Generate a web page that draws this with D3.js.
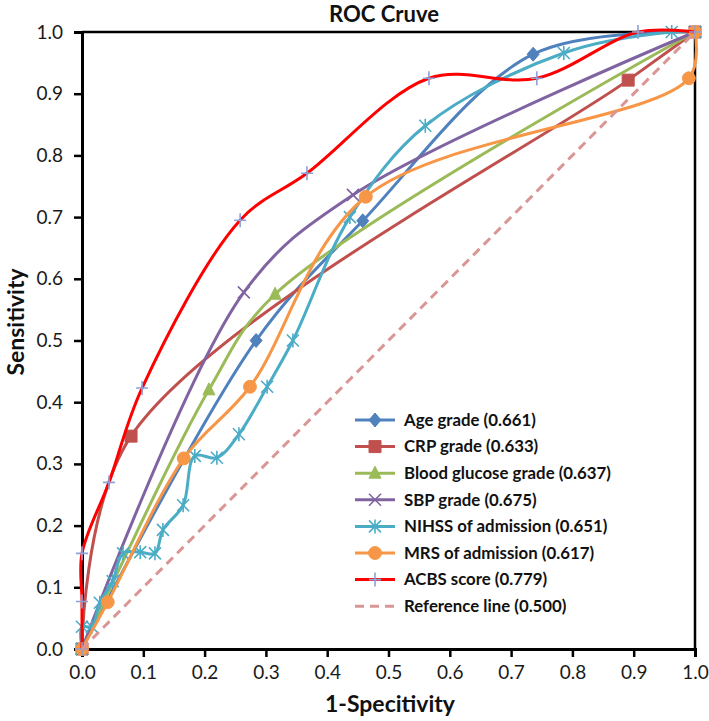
<!DOCTYPE html>
<html><head><meta charset="utf-8">
<script src="https://cdn.jsdelivr.net/npm/d3@7"></script>
<style>body{margin:0;background:#fff}svg{display:block}</style>
</head><body>
<script>
// ---- data ----
const xTicks = [0,0.1,0.2,0.3,0.4,0.5,0.6,0.7,0.8,0.9,1.0];
const yTicks = [0,0.1,0.2,0.3,0.4,0.5,0.6,0.7,0.8,0.9,1.0];
const seriesNames = ["Age grade (0.661)","CRP grade (0.633)","Blood glucose grade (0.637)","SBP grade (0.675)","NIHSS of admission (0.651)","MRS of admission (0.617)","ACBS score (0.779)","Reference line (0.500)"];
const ageX = [0, 0.284, 0.458, 0.736, 1];
const ageY = [0, 0.500, 0.694, 0.964, 1];
const crpX = [0, 0.080, 0.891, 1];
const crpY = [0, 0.345, 0.922, 1];
const bgX = [0, 0.207, 0.315, 1];
const bgY = [0, 0.420, 0.575, 1];
const sbpX = [0, 0.264, 0.442, 1];
const sbpY = [0, 0.578, 0.736, 1];
const nihssX = [0, 0, 0.016, 0.029, 0.050, 0.067, 0.095, 0.119, 0.132, 0.165, 0.184, 0.220, 0.256, 0.302, 0.344, 0.437, 0.560, 0.786, 0.962, 1];
const nihssY = [0, 0.036, 0.036, 0.075, 0.110, 0.155, 0.157, 0.155, 0.193, 0.233, 0.313, 0.310, 0.348, 0.425, 0.500, 0.700, 0.848, 0.966, 1.000, 1];
const mrsX = [0, 0.042, 0.166, 0.274, 0.463, 0.990, 1];
const mrsY = [0, 0.076, 0.309, 0.425, 0.733, 0.925, 1];
const acbsX = [0, 0, 0, 0.044, 0.098, 0.258, 0.367, 0.566, 0.742, 0.907, 1];
const acbsY = [0, 0.077, 0.155, 0.270, 0.423, 0.695, 0.771, 0.925, 0.925, 1.000, 1];
const refX = [0, 1];
const refY = [0, 1];

// ---- styles ----
const colors = ["#4F81BD","#C0504D","#9BBB59","#8064A2","#4BACC6","#F79646","#FF0000","#D99694"];
const markers = ["diamond","square","triangle","x","star","circle","plus","none"];
const markerColors = ["#4F81BD","#C0504D","#9BBB59","#8064A2","#4BACC6","#F79646","#8EA0D8",null];

const W = 709, H = 721;
const svg = d3.select("body").append("svg").attr("width", W).attr("height", H);
const x = d3.scaleLinear().domain([0,1]).range([82,695]);
const y = d3.scaleLinear().domain([0,1]).range([649,32]);

const font = "Lato, 'Open Sans', sans-serif";

// size a text so that its width matches a target width
function fitText(sel, base, target){
  sel.attr("font-size", base);
  const w = sel.node().getComputedTextLength();
  const fs = base * target / w;
  sel.attr("font-size", fs);
  return fs;
}

// title
const title = svg.append("text").attr("x", 384).attr("y", 22).attr("text-anchor","middle")
  .attr("font-family", font).attr("font-weight","bold").attr("fill","#111")
  .text("ROC Cruve");
fitText(title, 20, 110);
// axis titles
const xt = svg.append("text").attr("x", 390).attr("y", 712).attr("text-anchor","middle")
  .attr("font-family", font).attr("font-weight","bold").attr("fill","#111")
  .text("1-Specitivity");
const axFs = fitText(xt, 20, 130);
svg.append("text").attr("transform","translate(24,322) rotate(-90)").attr("text-anchor","middle")
  .attr("font-family", font).attr("font-weight","bold").attr("font-size", axFs).attr("fill","#111")
  .text("Sensitivity");

// axes
const gx = svg.append("g").attr("transform","translate(0,649)")
  .call(d3.axisBottom(x).tickValues(xTicks).tickFormat(d3.format(".1f")).tickSize(8).tickPadding(9));
const gy = svg.append("g").attr("transform","translate(82,0)")
  .call(d3.axisLeft(y).tickValues(yTicks).tickFormat(d3.format(".1f")).tickSize(8).tickPadding(11));
[gx, gy].forEach(g => {
  g.select(".domain").attr("stroke","#000").attr("stroke-width",3);
  g.selectAll(".tick line").attr("stroke","#000").attr("stroke-width",2.5);
  g.selectAll(".tick text").attr("font-family", font).attr("font-size",19).attr("fill","#1a1a1a");
});
// frame top/right
svg.append("path").attr("d", `M${x(0)},${y(1)}H${x(1)}V${y(0)}`).attr("fill","none").attr("stroke","#000").attr("stroke-width",2.5);

const lineGen = d3.line().x(d=>x(d[0])).y(d=>y(d[1])).curve(d3.curveCatmullRom.alpha(0.5));

function markerPath(type){
  const s = 6;
  switch(type){
    case "diamond": return `M0,${-s-1}L${s},0L0,${s+1}L${-s},0Z`;
    case "square": return `M${-s},${-s}H${s}V${s}H${-s}Z`;
    case "triangle": return `M0,${-s-1}L${s},${s-1}L${-s},${s-1}Z`;
    case "circle": return d3.symbol(d3.symbolCircle, 130)();
    case "x": return `M${-s},${-s}L${s},${s}M${s},${-s}L${-s},${s}`;
    case "star": return `M${-s},${-s}L${s},${s}M${s},${-s}L${-s},${s}M0,${-s-1}V${s+1}`;
    case "plus": return `M${-s},0H${s}M0,${-s-1}V${s+1}`;
  }
  return "";
}
function drawMarker(g, type, color, px, py){
  if(type==="none") return;
  const open = (type==="x"||type==="star"||type==="plus");
  g.append("path").attr("d", markerPath(type)).attr("transform",`translate(${px},${py})`)
    .attr("fill", open ? "none" : color).attr("stroke", color).attr("stroke-width", open?1.6:1);
}

const allX = [ageX, crpX, bgX, sbpX, nihssX, mrsX, acbsX, refX];
const allY = [ageY, crpY, bgY, sbpY, nihssY, mrsY, acbsY, refY];

allX.forEach((xs,i) => {
  const pts = xs.map((v,j)=>[v, allY[i][j]]);
  const g = svg.append("g");
  g.append("path").attr("d", i===7 ? d3.line().x(d=>x(d[0])).y(d=>y(d[1]))(pts) : lineGen(pts))
    .attr("fill","none").attr("stroke", colors[i]).attr("stroke-width", 3)
    .attr("stroke-dasharray", i===7 ? "9,6" : null);
  pts.forEach(p => drawMarker(g, markers[i], markerColors[i], x(p[0]), y(p[1])));
});

// legend
const lg = svg.append("g");
const legTexts = [];
seriesNames.forEach((name,i) => {
  const ly = 420 + i*26.6;
  lg.append("line").attr("x1",355).attr("x2",395).attr("y1",ly).attr("y2",ly)
    .attr("stroke", colors[i]).attr("stroke-width",3).attr("stroke-dasharray", i===7 ? "9,6" : null);
  drawMarker(lg, markers[i], markerColors[i], 375, ly);
  legTexts.push(lg.append("text").attr("x",404).attr("y",ly).attr("dy","0.35em")
    .attr("font-family", font).attr("font-weight","bold").attr("font-size",15).attr("fill","#111")
    .text(name));
});
// size legend font so the longest entry matches the reference width
const legFs = fitText(legTexts[2], 15, 207);
legTexts.forEach(t => t.attr("font-size", legFs));
</script>
</body></html>
